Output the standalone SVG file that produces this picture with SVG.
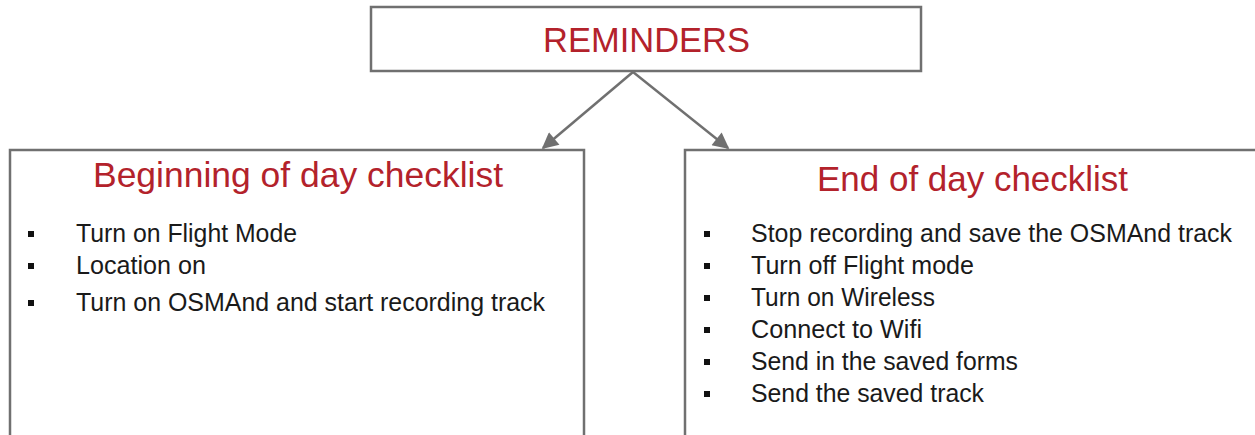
<svg xmlns="http://www.w3.org/2000/svg" width="1255" height="435" viewBox="0 0 1255 435">
<style>
.box{fill:#fff;stroke:#707070;stroke-width:2.5}
.ttl{font-family:"Liberation Sans",Arial,sans-serif;fill:#b3222b;font-size:35px}
.itm{font-family:"Liberation Sans",Arial,sans-serif;fill:#1a1a1a;font-size:25px}
.bul{fill:#111}
.con{stroke:#707070;stroke-width:2.5;fill:none}
</style>
<defs>
<marker id="ah" viewBox="0 0 10 10" refX="9" refY="5" markerWidth="7.5" markerHeight="6.5" markerUnits="strokeWidth" orient="auto">
<path d="M0,0 L10,5 L0,10 z" fill="#707070"/>
</marker>
</defs>
<rect width="1255" height="435" fill="#fff"/>
<g id="connectors">
<line class="con" x1="633" y1="72" x2="543" y2="148" marker-end="url(#ah)"/>
<line class="con" x1="633" y1="72" x2="728" y2="148" marker-end="url(#ah)"/>
</g>
<g id="reminders">
<rect class="box" x="371" y="7" width="550" height="64"/>
<text class="ttl" x="543" y="52" textLength="207" lengthAdjust="spacingAndGlyphs">REMINDERS</text>
</g>
<g id="beginning">
<rect class="box" x="10" y="150" width="574" height="300"/>
<text class="ttl" x="93" y="187" textLength="410" lengthAdjust="spacingAndGlyphs">Beginning of day checklist</text>
<rect class="bul" x="28" y="231" width="6" height="6"/>
<text class="itm" x="76" y="242" textLength="221" lengthAdjust="spacingAndGlyphs">Turn on Flight Mode</text>
<rect class="bul" x="28" y="263" width="6" height="6"/>
<text class="itm" x="76" y="274" textLength="130" lengthAdjust="spacingAndGlyphs">Location on</text>
<rect class="bul" x="28" y="300" width="6" height="6"/>
<text class="itm" x="76" y="311" textLength="469" lengthAdjust="spacingAndGlyphs">Turn on OSMAnd and start recording track</text>
</g>
<g id="end">
<rect class="box" x="685" y="150" width="580" height="300"/>
<text class="ttl" x="817" y="191" textLength="311" lengthAdjust="spacingAndGlyphs">End of day checklist</text>
<rect class="bul" x="704" y="231" width="6" height="6"/>
<text class="itm" x="751" y="242" textLength="481" lengthAdjust="spacingAndGlyphs">Stop recording and save the OSMAnd track</text>
<rect class="bul" x="704" y="263" width="6" height="6"/>
<text class="itm" x="751" y="274" textLength="223" lengthAdjust="spacingAndGlyphs">Turn off Flight mode</text>
<rect class="bul" x="704" y="295" width="6" height="6"/>
<text class="itm" x="751" y="306" textLength="184" lengthAdjust="spacingAndGlyphs">Turn on Wireless</text>
<rect class="bul" x="704" y="327" width="6" height="6"/>
<text class="itm" x="751" y="338" textLength="171" lengthAdjust="spacingAndGlyphs">Connect to Wifi</text>
<rect class="bul" x="704" y="359" width="6" height="6"/>
<text class="itm" x="751" y="370" textLength="267" lengthAdjust="spacingAndGlyphs">Send in the saved forms</text>
<rect class="bul" x="704" y="391" width="6" height="6"/>
<text class="itm" x="751" y="402" textLength="233" lengthAdjust="spacingAndGlyphs">Send the saved track</text>
</g>
</svg>
